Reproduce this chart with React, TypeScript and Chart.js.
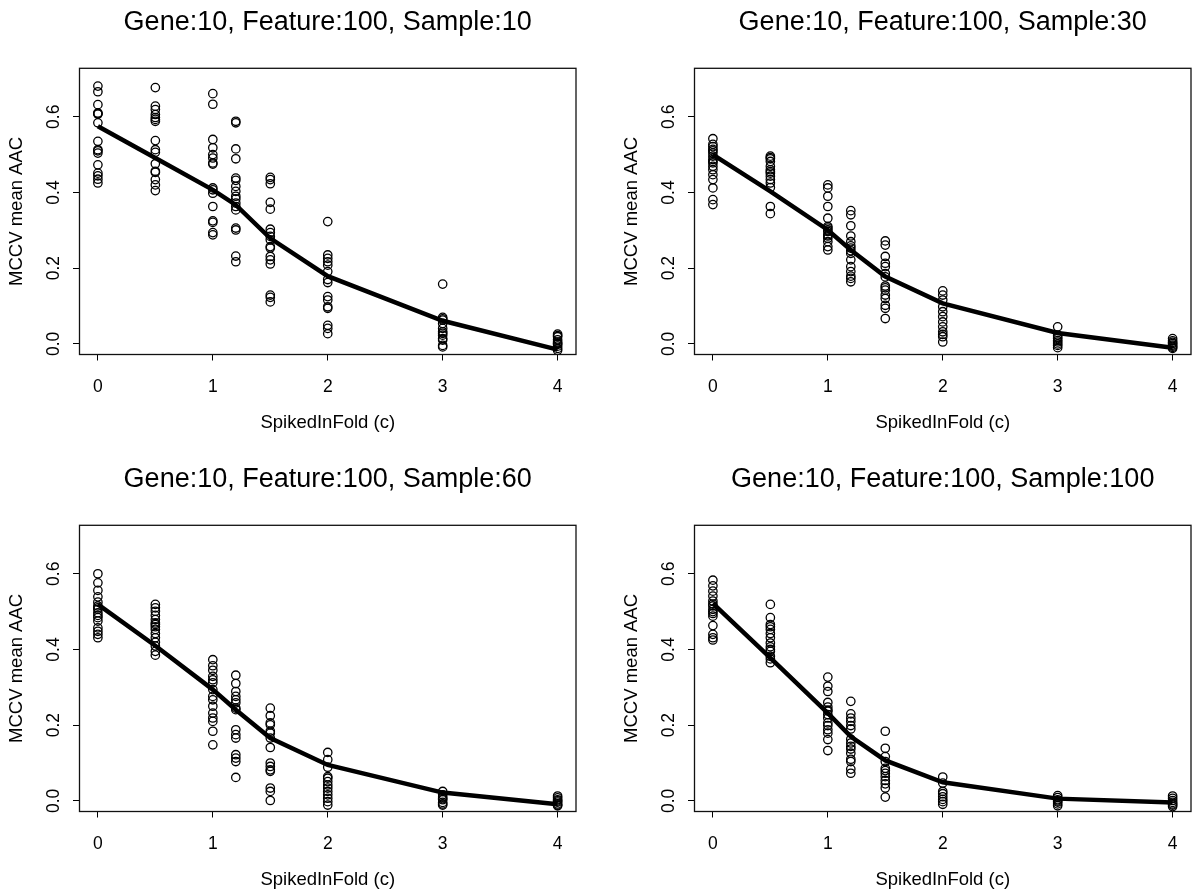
import React, { useEffect, useRef } from "react";
import { Chart, registerables } from "chart.js";

Chart.register(...registerables);

// ---------------- data ----------------
const FOLDS = [0, 0.5, 1, 1.2, 1.5, 2, 3, 4];
const X_TICKS = [0, 1, 2, 3, 4];
const Y_TICKS = [0, 0.2, 0.4, 0.6];
const X_LABEL = "SpikedInFold (c)";
const Y_LABEL = "MCCV mean AAC";

const TITLE_S10 = "Gene:10, Feature:100, Sample:10";
const TITLE_S30 = "Gene:10, Feature:100, Sample:30";
const TITLE_S60 = "Gene:10, Feature:100, Sample:60";
const TITLE_S100 = "Gene:10, Feature:100, Sample:100";

const S10_POINTS: number[][] = [
  [0.681, 0.666, 0.632, 0.61, 0.607, 0.584, 0.535, 0.513, 0.504, 0.473, 0.451, 0.444, 0.435, 0.425, 0.608, 0.51],
  [0.677, 0.628, 0.619, 0.606, 0.593, 0.588, 0.537, 0.513, 0.506, 0.476, 0.456, 0.453, 0.434, 0.42, 0.405, 0.598],
  [0.661, 0.633, 0.54, 0.518, 0.5, 0.491, 0.478, 0.412, 0.407, 0.398, 0.363, 0.325, 0.321, 0.294, 0.288, 0.475],
  [0.588, 0.584, 0.515, 0.489, 0.438, 0.432, 0.416, 0.403, 0.39, 0.383, 0.372, 0.363, 0.354, 0.306, 0.301, 0.232, 0.217],
  [0.44, 0.434, 0.423, 0.374, 0.356, 0.303, 0.294, 0.284, 0.275, 0.257, 0.253, 0.231, 0.222, 0.211, 0.129, 0.123, 0.111],
  [0.323, 0.235, 0.226, 0.217, 0.208, 0.191, 0.17, 0.162, 0.125, 0.116, 0.098, 0.094, 0.049, 0.041, 0.027],
  [0.158, 0.07, 0.066, 0.063, 0.054, 0.041, 0.032, 0.028, 0.023, 0.014, 0.01, -0.004, -0.008],
  [0.026, 0.022, 0.019, 0.011, 0.005, 0.001, -0.001, -0.006, -0.012, -0.017],
];
const S10_MEAN = [0.575, 0.491, 0.407, 0.367, 0.279, 0.179, 0.061, -0.015];

const S30_POINTS: number[][] = [
  [0.542, 0.527, 0.521, 0.514, 0.504, 0.496, 0.487, 0.478, 0.469, 0.46, 0.447, 0.434, 0.412, 0.381, 0.368, 0.51, 0.482],
  [0.496, 0.489, 0.482, 0.469, 0.46, 0.451, 0.443, 0.434, 0.425, 0.413, 0.363, 0.344, 0.492, 0.455],
  [0.42, 0.412, 0.39, 0.363, 0.332, 0.31, 0.306, 0.297, 0.288, 0.279, 0.27, 0.257, 0.248, 0.301, 0.285],
  [0.352, 0.341, 0.312, 0.285, 0.27, 0.259, 0.253, 0.239, 0.222, 0.204, 0.191, 0.179, 0.173, 0.164, 0.246],
  [0.272, 0.261, 0.231, 0.213, 0.204, 0.186, 0.177, 0.153, 0.142, 0.129, 0.12, 0.102, 0.094, 0.067, 0.148],
  [0.14, 0.129, 0.116, 0.098, 0.085, 0.072, 0.058, 0.045, 0.032, 0.019, 0.005, 0.025],
  [0.045, 0.023, 0.018, 0.014, 0.009, 0.005, 0.0, -0.004, -0.01],
  [0.014, 0.008, 0.004, 0.001, -0.003, -0.006, -0.009, -0.012],
];
const S30_MEAN = [0.5, 0.403, 0.301, 0.248, 0.178, 0.107, 0.029, -0.01];

const S60_POINTS: number[][] = [
  [0.6, 0.576, 0.556, 0.539, 0.525, 0.515, 0.506, 0.497, 0.484, 0.475, 0.457, 0.448, 0.44, 0.431, 0.51, 0.49],
  [0.519, 0.51, 0.501, 0.49, 0.479, 0.466, 0.453, 0.442, 0.431, 0.419, 0.409, 0.395, 0.385, 0.47, 0.46],
  [0.373, 0.357, 0.345, 0.329, 0.32, 0.312, 0.294, 0.276, 0.267, 0.25, 0.232, 0.219, 0.21, 0.184, 0.148],
  [0.332, 0.31, 0.289, 0.276, 0.267, 0.259, 0.245, 0.241, 0.188, 0.175, 0.166, 0.122, 0.113, 0.104, 0.062],
  [0.245, 0.225, 0.206, 0.201, 0.184, 0.179, 0.166, 0.141, 0.1, 0.091, 0.082, 0.078, 0.034, 0.025, 0.001],
  [0.128, 0.109, 0.089, 0.064, 0.06, 0.051, 0.042, 0.034, 0.025, 0.016, 0.007, -0.002, -0.011],
  [0.025, 0.016, 0.01, 0.006, 0.003, -0.004, -0.008, -0.011],
  [0.013, 0.008, 0.003, 0.0, -0.003, -0.008, -0.011, -0.013],
];
const S60_MEAN = [0.519, 0.41, 0.294, 0.241, 0.166, 0.095, 0.022, -0.009];

const S100_POINTS: number[][] = [
  [0.583, 0.568, 0.554, 0.541, 0.528, 0.515, 0.506, 0.495, 0.488, 0.463, 0.44, 0.431, 0.425, 0.5, 0.52],
  [0.519, 0.484, 0.466, 0.453, 0.442, 0.431, 0.417, 0.407, 0.395, 0.382, 0.375, 0.365, 0.46, 0.4],
  [0.327, 0.303, 0.289, 0.26, 0.248, 0.237, 0.228, 0.219, 0.206, 0.199, 0.188, 0.179, 0.162, 0.133, 0.24],
  [0.263, 0.23, 0.219, 0.21, 0.199, 0.19, 0.163, 0.153, 0.144, 0.137, 0.126, 0.11, 0.104, 0.084, 0.073],
  [0.184, 0.139, 0.117, 0.104, 0.086, 0.08, 0.073, 0.064, 0.054, 0.045, 0.034, 0.01],
  [0.063, 0.047, 0.025, 0.019, 0.011, 0.004, -0.002, -0.009],
  [0.014, 0.009, 0.003, 0.0, -0.003, -0.008, -0.013],
  [0.013, 0.007, 0.001, -0.004, -0.008, -0.011, -0.015],
];
const S100_MEAN = [0.522, 0.378, 0.232, 0.17, 0.107, 0.049, 0.006, -0.004];

// ---------------- rendering ----------------
const FONT = "'Liberation Sans', Arial, Helvetica, sans-serif";
const CANVAS_W = 585;
const CANVAS_H = 439;

const boxPlugin = {
  id: "rbox",
  afterDatasetsDraw(chart: any) {
    const { ctx, chartArea } = chart;
    ctx.save();
    ctx.strokeStyle = "#111";
    ctx.lineWidth = 1.3;
    ctx.strokeRect(chartArea.left, chartArea.top, chartArea.right - chartArea.left, chartArea.bottom - chartArea.top);
    ctx.restore();
  },
};

function Panel(props: { title: string; groups: number[][]; means: number[]; left: number; top: number }) {
  const ref = useRef<HTMLCanvasElement | null>(null);
  useEffect(() => {
    if (!ref.current) return;
    const points: { x: number; y: number }[] = [];
    props.groups.forEach((vals, i) => vals.forEach((v) => points.push({ x: FOLDS[i], y: v })));
    const meanLine = FOLDS.map((x, i) => ({ x, y: props.means[i] }));
    const tickFont = { family: FONT, size: 17.5, weight: "normal" as const };
    const labelFont = { family: FONT, size: 18.5, weight: "normal" as const };
    const chart = new Chart(ref.current, {
      type: "scatter",
      data: {
        datasets: [
          {
            type: "line",
            data: meanLine,
            borderColor: "#000",
            borderWidth: 4.5,
            pointRadius: 0,
            fill: false,
            tension: 0,
            order: 0,
          } as any,
          {
            type: "scatter",
            data: points,
            pointRadius: 4.2,
            pointBorderWidth: 1.3,
            borderColor: "#000",
            backgroundColor: "rgba(0,0,0,0)",
            pointBorderColor: "#000",
            pointBackgroundColor: "rgba(0,0,0,0)",
            order: 1,
          } as any,
        ],
      },
      options: {
        responsive: false,
        animation: false,
        devicePixelRatio: 1,
        layout: { padding: { left: 0, top: 0, right: 9, bottom: 0 } },
        plugins: {
          legend: { display: false },
          tooltip: { enabled: false },
          title: {
            display: true,
            text: props.title,
            fullSize: false,
            color: "#000",
            font: { family: FONT, size: 27, weight: "normal" },
            padding: { top: 6, bottom: 29.9 },
          },
        },
        scales: {
          x: {
            type: "linear",
            min: -0.16,
            max: 4.16,
            afterBuildTicks: (s: any) => {
              s.ticks = X_TICKS.map((v) => ({ value: v }));
            },
            afterFit: (s: any) => {
              s.height = 84.5;
            },
            ticks: {
              font: tickFont,
              color: "#000",
              padding: 16,
              autoSkip: false,
              maxRotation: 0,
              callback: (v: any) => String(v),
            },
            grid: {
              display: true,
              drawOnChartArea: false,
              drawTicks: true,
              tickLength: 6,
              tickColor: "#000",
              tickWidth: 1,
            },
            border: { display: false },
            title: {
              display: true,
              text: X_LABEL,
              color: "#000",
              font: labelFont,
              padding: { top: 0, bottom: 4.9 },
            },
          },
          y: {
            type: "linear",
            min: -0.028,
            max: 0.728,
            afterBuildTicks: (s: any) => {
              s.ticks = Y_TICKS.map((v) => ({ value: v }));
            },
            afterFit: (s: any) => {
              s.width = 79.5;
            },
            ticks: {
              font: tickFont,
              color: "#000",
              padding: 6.6,
              autoSkip: false,
              minRotation: 90,
              maxRotation: 90,
              crossAlign: "center",
              callback: (v: any) => Number(v).toFixed(1),
            },
            grid: {
              display: true,
              drawOnChartArea: false,
              drawTicks: true,
              tickLength: 6.5,
              tickColor: "#000",
              tickWidth: 1,
            },
            border: { display: false },
            title: {
              display: true,
              text: Y_LABEL,
              color: "#000",
              font: labelFont,
              padding: { top: 5.6, bottom: 0 },
            },
          },
        },
      } as any,
      plugins: [boxPlugin],
    });
    return () => chart.destroy();
  }, []);
  return (
    <canvas
      ref={ref}
      width={CANVAS_W}
      height={CANVAS_H}
      style={{ position: "absolute", left: props.left, top: props.top, width: CANVAS_W, height: CANVAS_H }}
    />
  );
}

export default function App() {
  return (
    <div style={{ position: "absolute", left: 0, top: 0, width: 1200, height: 896, background: "#fff", overflow: "hidden" }}>
      <Panel title={TITLE_S10} groups={S10_POINTS} means={S10_MEAN} left={0} top={0} />
      <Panel title={TITLE_S30} groups={S30_POINTS} means={S30_MEAN} left={615} top={0} />
      <Panel title={TITLE_S60} groups={S60_POINTS} means={S60_MEAN} left={0} top={457} />
      <Panel title={TITLE_S100} groups={S100_POINTS} means={S100_MEAN} left={615} top={457} />
    </div>
  );
}
